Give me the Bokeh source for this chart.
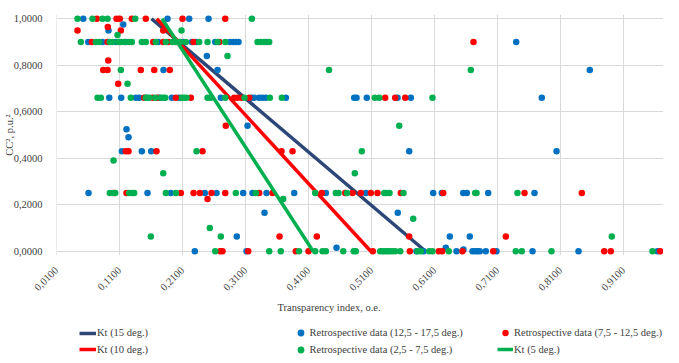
import math
from bokeh.plotting import figure
from bokeh.layouts import column
from bokeh.models import Range1d, FixedTicker, CustomJSTickFormatter, Legend, LegendItem, Label
from bokeh.embed import file_html
from bokeh.resources import INLINE

# ---------------- data ----------------
x_ticks = [0.01, 0.11, 0.21, 0.31, 0.41, 0.51, 0.61, 0.71, 0.81, 0.91]
y_ticks = [0.0, 0.2, 0.4, 0.6, 0.8, 1.0]

# Kt model lines (y from 1 to 0)
kt15_x = [0.1608, 0.5957]
kt15_y = [1.0, 0.0]
kt10_x = [0.1692, 0.5089]
kt10_y = [1.0, 0.0]
kt5_x = [0.1776, 0.4173]
kt5_y = [1.0, 0.0]

# Retrospective data (12,5 - 17,5 deg.)
blue_x = [0.0524, 0.1862, 0.2206, 0.2513,
          0.0925, 0.1159,
          0.0603, 0.0830, 0.1041, 0.1200, 0.1714, 0.2116, 0.2248, 0.2322, 0.2619, 0.2851, 0.2905, 0.2946, 0.2989, 0.3433, 0.7397,
          0.2486,
          0.1798, 0.2656, 0.8565,
          0.0937, 0.1127, 0.1359, 0.1413, 0.1529, 0.1730, 0.1930, 0.2048, 0.2708, 0.3195, 0.3238, 0.3317, 0.3370, 0.3422, 0.3740, 0.4825, 0.4862, 0.5025, 0.5513, 0.5724, 0.7803,
          0.3132, 0.1211, 0.1243,
          0.1137, 0.1454, 0.1603, 0.5698, 0.8037,
          0.0608, 0.1544, 0.1914, 0.2454, 0.2640, 0.3063, 0.3211, 0.3433, 0.3873, 0.4375, 0.5010, 0.6079, 0.6216, 0.6556, 0.6613, 0.6952, 0.7687,
          0.3402, 0.5517,
          0.2962, 0.6343, 0.6660,
          0.4544, 0.6279, 0.6560,
          0.2295, 0.3116, 0.5814, 0.5925, 0.6449, 0.6703, 0.6746, 0.6783, 0.6819, 0.6914, 0.7084, 0.7656, 0.8386, 0.9640]
blue_y = [1.0, 1.0, 1.0, 1.0,
          0.95, 0.975,
          0.9, 0.9, 0.9, 0.9, 0.9, 0.9, 0.9, 0.9, 0.9, 0.9, 0.9, 0.9, 0.9, 0.9, 0.9,
          0.84,
          0.78, 0.78, 0.78,
          0.66, 0.66, 0.66, 0.66, 0.66, 0.66, 0.66, 0.66, 0.66, 0.66, 0.66, 0.66, 0.66, 0.66, 0.66, 0.66, 0.66, 0.66, 0.66, 0.66, 0.66,
          0.54, 0.525, 0.49,
          0.43, 0.43, 0.43, 0.43, 0.43,
          0.25, 0.25, 0.25, 0.25, 0.25, 0.25, 0.25, 0.25, 0.25, 0.25, 0.25, 0.25, 0.25, 0.25, 0.25, 0.25, 0.25,
          0.165, 0.165,
          0.063, 0.063, 0.063,
          0.015, 0.015, 0.007,
          0.0, 0.0, 0.0, 0.0, 0.0, 0.0, 0.0, 0.0, 0.0, 0.0, 0.0, 0.0, 0.0, 0.0]

# Retrospective data (7,5 - 12,5 deg.)
red_x = [0.0740, 0.1052, 0.1105, 0.1295, 0.1517, 0.2100, 0.2778,
         0.0433, 0.1121, 0.1794, 0.0914,
         0.0660, 0.0910, 0.1635, 0.1794, 0.1873, 0.2021, 0.2275, 0.2683, 0.6719,
         0.0921,
         0.0841, 0.0910, 0.1438, 0.1651, 0.1898,
         0.1079,
         0.1492, 0.1624, 0.1703, 0.1994, 0.2232, 0.2921, 0.2973, 0.3037, 0.3159, 0.5317, 0.5476, 0.5635,
         0.2787,
         0.1200, 0.1243, 0.1687, 0.2417, 0.3671, 0.3846,
         0.1016, 0.1211, 0.2073, 0.2275, 0.2375, 0.2560, 0.2778, 0.3317, 0.3529, 0.4311, 0.4683, 0.4798, 0.4930, 0.5089, 0.5195, 0.5565, 0.6238, 0.7529, 0.8438,
         0.2497,
         0.3640, 0.4232, 0.5698, 0.7232,
         0.2698, 0.2735, 0.3143, 0.3898, 0.4100, 0.5121, 0.5708, 0.6168, 0.6222, 0.6544, 0.7032, 0.8794, 0.8898, 0.9683]
red_y = [1.0, 1.0, 1.0, 1.0, 1.0, 1.0, 1.0,
         0.95, 0.95, 0.95, 0.965,
         0.9, 0.9, 0.9, 0.9, 0.9, 0.9, 0.9, 0.9, 0.9,
         0.82,
         0.78, 0.78, 0.78, 0.78, 0.78,
         0.72,
         0.66, 0.66, 0.66, 0.66, 0.66, 0.66, 0.66, 0.66, 0.66, 0.66, 0.66, 0.66,
         0.54,
         0.43, 0.43, 0.43, 0.43, 0.43, 0.43,
         0.25, 0.25, 0.25, 0.25, 0.25, 0.25, 0.25, 0.25, 0.25, 0.25, 0.25, 0.25, 0.25, 0.25, 0.25, 0.25, 0.25, 0.25, 0.25,
         0.225,
         0.063, 0.063, 0.063, 0.063,
         0.0, 0.0, 0.0, 0.0, 0.0, 0.0, 0.0, 0.0, 0.0, 0.0, 0.0, 0.0, 0.0, 0.0]

# Retrospective data (2,5 - 7,5 deg.)
green_x = [0.0433, 0.0671, 0.0830, 0.0910, 0.1349, 0.3200,
           0.2084, 0.1068,
           0.0486, 0.0724, 0.0778, 0.0946, 0.0989, 0.1084, 0.1121, 0.1175, 0.1254, 0.1295, 0.1454, 0.1517, 0.1676, 0.1835, 0.1941, 0.1984, 0.2063, 0.2152, 0.2365, 0.2497, 0.2656, 0.2778, 0.3290, 0.3343, 0.3397, 0.3476,
           0.2814,
           0.1121, 0.4425, 0.6676,
           0.1227,
           0.0751, 0.0803, 0.1279, 0.1517, 0.1571, 0.1667, 0.1756, 0.1794, 0.1825, 0.2089, 0.2127, 0.2163, 0.2497, 0.2549, 0.2778, 0.3084, 0.3486, 0.3676, 0.5152, 0.5222, 0.6068,
           0.5540,
           0.2322, 0.4946,
           0.1005,
           0.1794, 0.4835,
           0.0946, 0.0989, 0.1032, 0.1254, 0.1295, 0.1333, 0.1835, 0.1994, 0.2946, 0.3263, 0.4206, 0.4533, 0.4576, 0.4711, 0.5302, 0.5338, 0.5386, 0.5608, 0.6746, 0.6767, 0.7417,
           0.3698, 0.5762, 0.2533,
           0.1597, 0.2708, 0.8914,
           0.2619, 0.3476, 0.3660, 0.3949, 0.4206, 0.4322, 0.4375, 0.4651, 0.4817, 0.4851, 0.5238, 0.5275, 0.5317, 0.5354, 0.5390, 0.5433, 0.5476, 0.5556, 0.5830, 0.5883, 0.6016, 0.6068, 0.6327, 0.7390, 0.7486, 0.7957, 0.9560]
green_y = [1.0, 1.0, 1.0, 1.0, 1.0, 1.0,
           0.95, 0.93,
           0.9, 0.9, 0.9, 0.9, 0.9, 0.9, 0.9, 0.9, 0.9, 0.9, 0.9, 0.9, 0.9, 0.9, 0.9, 0.9, 0.9, 0.9, 0.9, 0.9, 0.9, 0.9, 0.9, 0.9, 0.9, 0.9,
           0.84,
           0.78, 0.78, 0.78,
           0.72,
           0.66, 0.66, 0.66, 0.66, 0.66, 0.66, 0.66, 0.66, 0.66, 0.66, 0.66, 0.66, 0.66, 0.66, 0.66, 0.66, 0.66, 0.66, 0.66, 0.66, 0.66,
           0.54,
           0.43, 0.43,
           0.39,
           0.335, 0.335,
           0.25, 0.25, 0.25, 0.25, 0.25, 0.25, 0.25, 0.25, 0.25, 0.25, 0.25, 0.25, 0.25, 0.25, 0.25, 0.25, 0.25, 0.25, 0.25, 0.25, 0.25,
           0.225, 0.14, 0.1,
           0.063, 0.063, 0.063,
           0.0, 0.0, 0.0, 0.0, 0.0, 0.0, 0.0, 0.0, 0.0, 0.0, 0.0, 0.0, 0.0, 0.0, 0.0, 0.0, 0.0, 0.0, 0.0, 0.0, 0.0, 0.0, 0.0, 0.0, 0.0, 0.0, 0.0]

series_labels = ["Kt (15 deg.)", "Retrospective data (12,5 - 17,5 deg.)",
                 "Retrospective data (7,5 - 12,5 deg.)", "Kt (10 deg.)",
                 "Retrospective data (2,5 - 7,5 deg.)", "Kt (5 deg.)"]
x_title = "Transparency index, o.e."
y_title = "CC\u00b2, p.u.\u00b2"

# ---------------- styling ----------------
FONT = "Liberation Serif"
FS = "10.5px"
TEXT = "#404040"
GRID = "#D9D9D9"
NAVY = "#2C4677"
BLUE = "#0070C0"
RED = "#FF0000"
GREEN = "#00B050"

p = figure(width=663, height=296, output_backend="svg", toolbar_location=None,
           x_range=Range1d(0.00995, 0.9735), y_range=Range1d(-0.0184, 1.0184),
           min_border_left=56, min_border_right=0, min_border_top=14, min_border_bottom=40)
p.outline_line_color = None

p.xaxis.ticker = FixedTicker(ticks=x_ticks)
p.yaxis.ticker = FixedTicker(ticks=y_ticks)
fmt = "return tick.toFixed(4).replace('.', ',');"
p.xaxis.formatter = CustomJSTickFormatter(code=fmt)
p.yaxis.formatter = CustomJSTickFormatter(code=fmt)
for ax in (p.xaxis, p.yaxis):
    ax.axis_line_color = None
    ax.major_tick_line_color = None
    ax.minor_tick_line_color = None
    ax.major_label_text_font = FONT
    ax.major_label_text_font_size = FS
    ax.major_label_text_color = TEXT
p.xaxis.major_label_orientation = math.pi / 4
p.xaxis.major_label_standoff = 7
p.yaxis.major_label_standoff = 8
p.yaxis.axis_label = y_title
p.yaxis.axis_label_text_font = FONT
p.yaxis.axis_label_text_font_size = FS
p.yaxis.axis_label_text_font_style = "normal"
p.yaxis.axis_label_text_color = TEXT
p.yaxis.axis_label_standoff = -4
p.grid.grid_line_color = GRID
p.grid.grid_line_width = 1

p.line(kt15_x, kt15_y, line_color=NAVY, line_width=3.5)
p.scatter(blue_x, blue_y, size=6.5, fill_color=BLUE, line_color=None)
p.scatter(red_x, red_y, size=6.5, fill_color=RED, line_color=None)
p.line(kt10_x, kt10_y, line_color=RED, line_width=3.5)
p.scatter(green_x, green_y, size=6.5, fill_color=GREEN, line_color=None)
p.line(kt5_x, kt5_y, line_color=GREEN, line_width=3.5)

# ---------- lower panel: axis title and legend ----------
p2 = figure(width=663, height=59, output_backend="svg", toolbar_location=None,
            x_axis_type=None, y_axis_type=None, x_range=Range1d(0, 1), y_range=Range1d(0, 1),
            min_border_left=0, min_border_right=0, min_border_top=0, min_border_bottom=0)
p2.outline_line_color = None
p2.grid.visible = False

p2.add_layout(Label(x=272.5, y=48.3, x_units="screen", y_units="screen", text=x_title,
                    text_align="center", text_baseline="middle", text_font=FONT,
                    text_font_size=FS, text_color=TEXT))

# hidden legend proxies that share the series' data and style
g_kt15 = p2.line(kt15_x, kt15_y, line_color=NAVY, line_width=3.5, visible=False)
g_blue = p2.scatter(blue_x, blue_y, fill_color=BLUE, line_color=None, visible=False)
g_red = p2.scatter(red_x, red_y, fill_color=RED, line_color=None, visible=False)
g_kt10 = p2.line(kt10_x, kt10_y, line_color=RED, line_width=3.5, visible=False)
g_green = p2.scatter(green_x, green_y, fill_color=GREEN, line_color=None, visible=False)
g_kt5 = p2.line(kt5_x, kt5_y, line_color=GREEN, line_width=3.5, visible=False)

def add_legend(label, renderer, loc, gw, gh, standoff):
    lg = Legend(items=[LegendItem(label=label, renderers=[renderer])], location=loc,
                glyph_width=gw, glyph_height=gh, label_height=gh, label_standoff=standoff,
                padding=0, margin=0, spacing=0, border_line_color=None,
                background_fill_alpha=0, inactive_fill_alpha=0,
                label_text_font=FONT, label_text_font_size=FS,
                label_text_color=TEXT)
    p2.add_layout(lg)

add_legend(series_labels[0], g_kt15, (23, 15.5), 17, 14, 1)
add_legend(series_labels[3], g_kt10, (23, -1), 17, 14, 1)
add_legend(series_labels[1], g_blue, (235.5, 14), 17, 17, 1)
add_legend(series_labels[4], g_green, (235.5, -2.5), 17, 17, 1)
add_legend(series_labels[2], g_red, (441, 14), 16, 17, 1)
add_legend(series_labels[5], g_kt5, (441, -1), 16, 14, 1)

layout = column(p, p2, spacing=0)
open("out.html", "w").write(file_html(layout, INLINE))
